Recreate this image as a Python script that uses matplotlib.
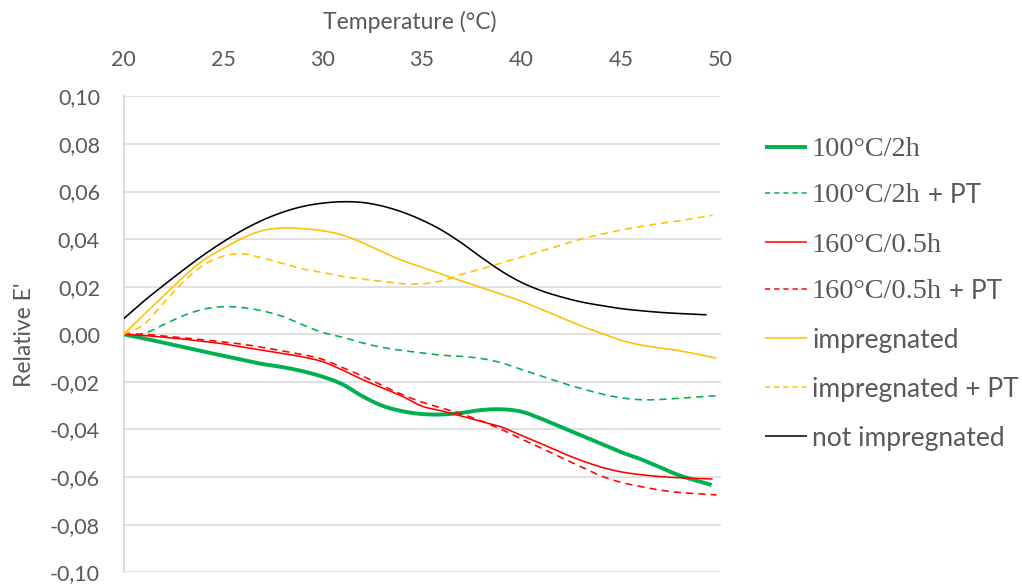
import numpy as np
import matplotlib
matplotlib.use("Agg")
import matplotlib.pyplot as plt
from matplotlib.lines import Line2D

# ---------------- data ----------------
temps = list(range(20, 49))  # 20 .. 48 °C

not_impregnated = [0.0065, 0.0138, 0.0205, 0.027, 0.0332, 0.0388, 0.0438, 0.048, 0.0513, 0.0537,
                   0.0551, 0.0557, 0.0554, 0.0539, 0.0514, 0.048, 0.0437, 0.0383, 0.0322, 0.0265,
                   0.0218, 0.0183, 0.0157, 0.0136, 0.0121, 0.0108, 0.0099, 0.0092, 0.0087]
not_impregnated_end = (49.3, 0.0082)

impregnated = [0.0, 0.008, 0.016, 0.024, 0.031, 0.036, 0.0405, 0.0436, 0.0447, 0.0444,
               0.0435, 0.0417, 0.0385, 0.0347, 0.031, 0.0282, 0.0252, 0.0224, 0.0196, 0.0168,
               0.0139, 0.0105, 0.007, 0.0035, 0.0005, -0.0025, -0.0045, -0.0058, -0.007]
impregnated_end = (49.8, -0.010)

impregnated_pt = [0.0, 0.004, 0.013, 0.022, 0.029, 0.0328, 0.0338, 0.032, 0.0298, 0.0275,
                  0.026, 0.0243, 0.0232, 0.0222, 0.0213, 0.0212, 0.0225, 0.0252, 0.0275, 0.030,
                  0.0325, 0.035, 0.0375, 0.040, 0.042, 0.0438, 0.0453, 0.0466, 0.0478]
impregnated_pt_end = (49.6, 0.050)

t100_2h_pt = [0.0, 0.0003, 0.004, 0.0078, 0.0105, 0.0116, 0.0112, 0.0098, 0.0075, 0.004,
              0.0008, -0.0012, -0.0036, -0.0055, -0.0068, -0.0078, -0.0088, -0.0093, -0.0102, -0.012,
              -0.0148, -0.0175, -0.0203, -0.0228, -0.025, -0.0267, -0.0275, -0.0274, -0.0268]
t100_2h_pt_end = (49.8, -0.0258)

t100_2h = [0.0, -0.0017, -0.0035, -0.0053, -0.0072, -0.009, -0.0108, -0.0125, -0.0138, -0.0155,
           -0.0178, -0.021, -0.026, -0.030, -0.0323, -0.0335, -0.0337, -0.033, -0.0318, -0.0315,
           -0.0325, -0.0355, -0.039, -0.0425, -0.046, -0.0495, -0.0525, -0.056, -0.0595]
t100_2h_end = (49.55, -0.0633)

t160_05h = [0.0, -0.0005, -0.0012, -0.002, -0.003, -0.004, -0.0054, -0.0067, -0.0081, -0.0095,
            -0.0115, -0.015, -0.019, -0.0225, -0.026, -0.0302, -0.0322, -0.0344, -0.0366, -0.039,
            -0.0425, -0.046, -0.0497, -0.053, -0.0558, -0.0578, -0.059, -0.0598, -0.0603]
t160_05h_end = (49.6, -0.0608)

t160_05h_pt = [0.0, 0.0, -0.0007, -0.0015, -0.0023, -0.0032, -0.0042, -0.0055, -0.007, -0.0085,
               -0.0105, -0.014, -0.0175, -0.0215, -0.0253, -0.0285, -0.031, -0.0335, -0.0365, -0.040,
               -0.044, -0.0478, -0.0518, -0.0557, -0.0595, -0.0622, -0.064, -0.0655, -0.0665]
t160_05h_pt_end = (49.8, -0.0675)

x_ticks = [20, 25, 30, 35, 40, 45, 50]
y_ticks = [-0.10, -0.08, -0.06, -0.04, -0.02, 0.00, 0.02, 0.04, 0.06, 0.08, 0.10]

GREEN = "#00B050"
RED = "#FF0000"
YELLOW = "#FFC000"
BLACK = "#000000"
TXT = "#595959"
GRID = "#D9D9D9"

# (serif part, sans part, values, end point, color, lw, dashed)
series = [
    ("100°C/2h", "", t100_2h, t100_2h_end, GREEN, 2.8, False),
    ("100°C/2h", " + PT", t100_2h_pt, t100_2h_pt_end, GREEN, 1.15, True),
    ("160°C/0.5h", "", t160_05h, t160_05h_end, RED, 1.15, False),
    ("160°C/0.5h", " + PT", t160_05h_pt, t160_05h_pt_end, RED, 1.15, True),
    ("", "impregnated", impregnated, impregnated_end, YELLOW, 1.15, False),
    ("", "impregnated + PT", impregnated_pt, impregnated_pt_end, YELLOW, 1.15, True),
    ("", "not impregnated", not_impregnated, not_impregnated_end, BLACK, 1.15, False),
]


def smooth(x, y, n=12):
    """Catmull-Rom rendering of a smoothed line through the data points."""
    x = np.asarray(x, float)
    y = np.asarray(y, float)
    px = np.concatenate([[2 * x[0] - x[1]], x, [2 * x[-1] - x[-2]]])
    py = np.concatenate([[2 * y[0] - y[1]], y, [2 * y[-1] - y[-2]]])
    xs, ys = [], []
    t = np.linspace(0, 1, n, endpoint=False)
    for i in range(1, len(px) - 2):
        p0, p1, p2, p3 = px[i - 1], px[i], px[i + 1], px[i + 2]
        q0, q1, q2, q3 = py[i - 1], py[i], py[i + 1], py[i + 2]
        xs.append(0.5 * ((2 * p1) + (-p0 + p2) * t + (2 * p0 - 5 * p1 + 4 * p2 - p3) * t ** 2
                         + (-p0 + 3 * p1 - 3 * p2 + p3) * t ** 3))
        ys.append(0.5 * ((2 * q1) + (-q0 + q2) * t + (2 * q0 - 5 * q1 + 4 * q2 - q3) * t ** 2
                         + (-q0 + 3 * q1 - 3 * q2 + q3) * t ** 3))
    xs.append([x[-1]])
    ys.append([y[-1]])
    return np.concatenate(xs), np.concatenate(ys)


W, H = 1022, 585
fig = plt.figure(figsize=(W / 100, H / 100), dpi=100)
L, R, T, B = 123.5, 720.5, 96.3, 572.3
ax = fig.add_axes([L / W, 1 - B / H, (R - L) / W, (B - T) / H])

SANS = "Lato"
SERIF = "Liberation Serif"

for serif, sans, vals, end, color, lw, dashed in series:
    xx = temps + [end[0]]
    yy = list(vals) + [end[1]]
    sx, sy = smooth(xx, yy)
    ln, = ax.plot(sx, sy, color=color, lw=lw, solid_capstyle="butt", zorder=3)
    if dashed:
        ln.set_dashes((4.5, 3.2))

ax.set_xlim(20, 50)
ax.set_ylim(-0.10, 0.10)
ax.set_xticks(x_ticks)
ax.set_yticks(y_ticks)
ax.set_xticklabels([str(v) for v in x_ticks])
ax.set_yticklabels([f"{v:.2f}".replace(".", ",").replace("-0,00", "0,00") for v in y_ticks])
ax.xaxis.tick_top()
ax.tick_params(axis="x", length=0, pad=19, labelsize=15.5, labelcolor=TXT)
ax.tick_params(axis="y", length=0, pad=17, labelsize=15.5, labelcolor=TXT)
for lab in ax.get_xticklabels() + ax.get_yticklabels():
    lab.set_fontfamily(SANS)

ax.grid(axis="y", color=GRID, lw=1.1, zorder=0)
ax.set_axisbelow(True)
for s in ["top", "right", "bottom"]:
    ax.spines[s].set_visible(False)
ax.spines["left"].set_color(GRID)
ax.spines["left"].set_linewidth(1.3)

fig.text(410 / W, 1 - 22 / H, "Temperature (°C)", ha="center", va="center",
         fontsize=16.5, color=TXT, family=SANS)
fig.text(25 / W, 1 - 335 / H, "Relative E'", ha="center", va="center", rotation=90,
         fontsize=16.5, color=TXT, family=SANS)

# legend drawn manually (mixed fonts)
fig.canvas.draw()
renderer = fig.canvas.get_renderer()
row_y = [147, 193, 242, 289, 338, 387, 436]
for (serif, sans, vals, end, color, lw, dashed), yr in zip(series, row_y):
    yf = 1 - yr / H
    ln = Line2D([765 / W, 807 / W], [yf, yf], transform=fig.transFigure, color=color,
                lw=(2.8 if lw > 2 else 1.1), solid_capstyle="butt")
    if dashed:
        ln.set_dashes((3.4, 2.6))
    fig.add_artist(ln)
    xpos = 812 / W
    if serif:
        t = fig.text(xpos, yf, serif, ha="left", va="center_baseline", fontsize=20.3,
                     color=TXT, family=SERIF)
        bb = t.get_window_extent(renderer)
        xpos = bb.x1 / W
    if sans:
        fig.text(xpos, yf, sans, ha="left", va="center_baseline", fontsize=19,
                 color=TXT, family=SANS)

fig.savefig("out.png", dpi=100)
